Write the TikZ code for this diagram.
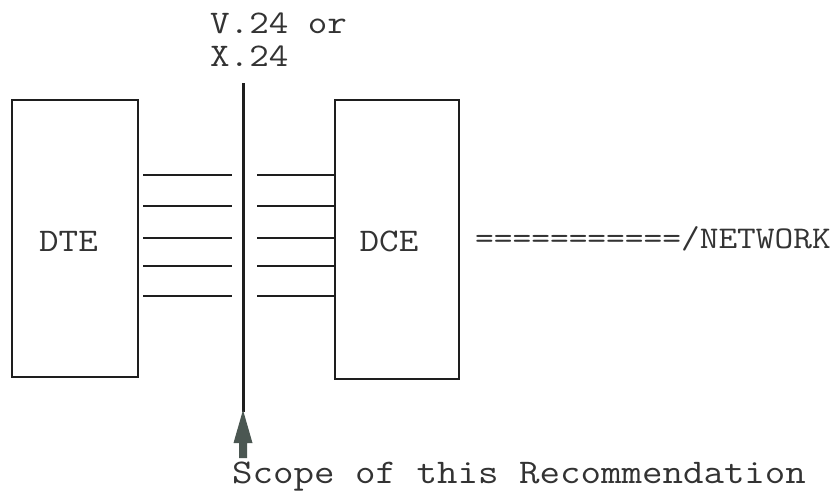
\documentclass[tikz,border=0pt]{standalone}
\usepackage{fontspec}
\setmonofont{Latin Modern Mono}[FakeStretch=1.15]
\usepackage{xcolor}
\usetikzlibrary{arrows.meta,positioning,calc}
\definecolor{inkline}{HTML}{1E1E1E}
\definecolor{inktext}{HTML}{333333}
\definecolor{arrowgrey}{HTML}{4B5752}

\begin{document}
\begin{tikzpicture}[x=1pt,y=-1pt,font=\ttfamily\fontsize{33}{40}\selectfont,
  unitbox/.style={draw=inkline,line width=2pt,inner sep=0pt},
  wire/.style={inkline,line width=1.8pt},
  lbl/.style={inner sep=0pt,text=inktext,anchor=base west}]
  \useasboundingbox (0,0) rectangle (834,490);

  % equipment boxes
  \node[unitbox,minimum width=126pt,minimum height=277pt] (dte) at (75,238.5) {};
  \node[unitbox,minimum width=124pt,minimum height=279pt] (dce) at (397,239.5) {};
  \node[inner sep=0pt,text=inktext] (dtetxt) at (68.5,241.5) {DTE};
  \node[inner sep=0pt,text=inktext] (dcetxt) at (389,241.5) {DCE};

  % interface line
  \coordinate (ifTop) at (243,83);
  \coordinate (ifBot) at (243,412);
  \draw[inkline,line width=3pt] (ifTop) -- (ifBot);
  \node[lbl] (vlab) at (210,33) {V.24 or};
  \node[lbl] (xlab) at (210,66) {X.24};

  % interchange circuits
  \foreach \yy in {175,206,238,266,296}{
    \draw[wire] ($(dte.east |- 0,\yy)+(4,0)$) -- ($(ifTop |- 0,\yy)+(-11,0)$);
    \draw[wire] ($(ifTop |- 0,\yy)+(14,0)$) -- (dce.west |- 0,\yy);
  }

  \node[lbl,font=\ttfamily\fontsize{31.6}{38}\selectfont] (net) at (475,248)
    {===========/NETWORK};

  % scope arrow
  \node[lbl,font=\ttfamily\fontsize{34.6}{40}\selectfont] (scopetxt) at (232,483)
    {Scope of this Recommendation};
  \coordinate (arrTip) at (243,410);
  \fill[arrowgrey] (arrTip) -- ++(9.5,33) -- ++(-5.5,0) -- ++(0,15)
    -- ++(-8,0) -- ++(0,-15) -- ++(-5.5,0) -- cycle;
\end{tikzpicture}
\end{document}
